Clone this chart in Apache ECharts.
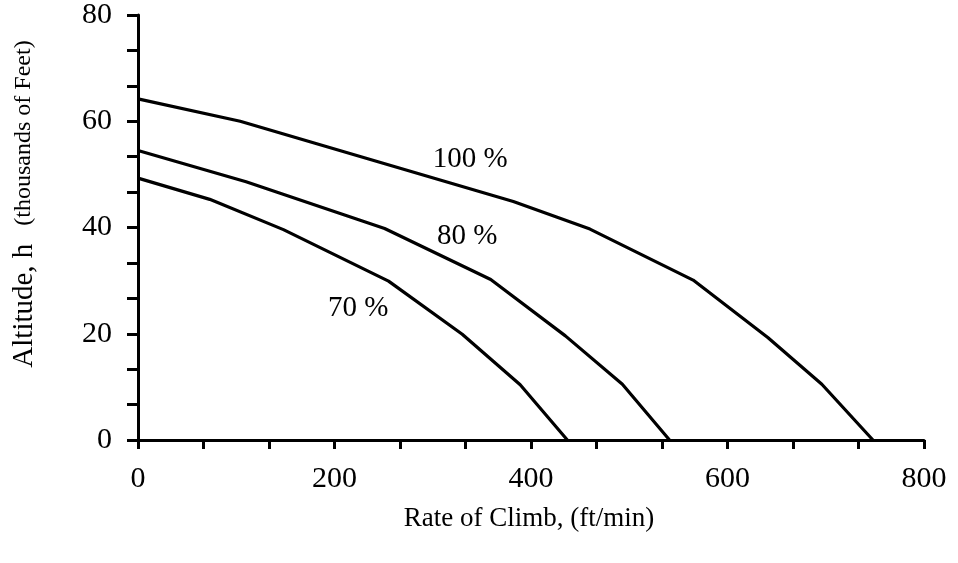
<!DOCTYPE html>
<html>
<head>
<meta charset="utf-8">
<script src="https://cdn.jsdelivr.net/npm/echarts@6/dist/echarts.min.js"></script>
<style>html,body{margin:0;padding:0;background:#fff;}#c{width:958px;height:563px;}</style>
</head>
<body>
<div id="c"></div>
<script>
// Rate of climb (ft/min) vs altitude (thousands of feet)
const curve100 = [[0, 64.2], [104, 60.0], [382, 44.9], [460, 39.7], [565, 30.1], [641, 19.3], [696, 10.5], [748, 0]];
const curve80  = [[0, 54.5], [110, 48.6], [251, 39.8], [359, 30.2], [435, 19.6], [493, 10.5], [541, 0]];
const curve70  = [[0, 49.3], [73, 45.3], [148, 39.6], [255, 29.9], [330, 19.9], [389, 10.4], [437, 0]];
const curveLabels = [
  { text: '100 %', x: 338, y: 52.8 },
  { text: '80 %', x: 335, y: 38.3 },
  { text: '70 %', x: 224, y: 24.8 }
];
const xTicks = [0, 200, 400, 600, 800];
const yTicks = [0, 20, 40, 60, 80];

const FONT = '"Liberation Serif", "DejaVu Serif", serif';
const chart = echarts.init(document.getElementById('c'));

const lineStyle = { color: '#000', width: 3.2 };
function mkSeries(data) {
  return { type: 'line', data: data, symbol: 'none', lineStyle: lineStyle, silent: true, animation: false };
}

chart.setOption({
  animation: false,
  backgroundColor: '#fff',
  grid: { left: 138, right: 34, top: 15, bottom: 123 },
  xAxis: {
    type: 'value', min: xTicks[0], max: xTicks[xTicks.length - 1], interval: 200,
    axisLine: { lineStyle: { color: '#000', width: 3 } },
    axisTick: { show: true, length: 9, lineStyle: { color: '#000', width: 3 } },
    minorTick: { show: true, splitNumber: 3, length: 9, lineStyle: { color: '#000', width: 3 } },
    splitLine: { show: false },
    axisLabel: { margin: 24, color: '#000', fontFamily: FONT, fontSize: 30 }
  },
  yAxis: {
    type: 'value', min: yTicks[0], max: yTicks[yTicks.length - 1], interval: 20,
    axisLine: { lineStyle: { color: '#000', width: 3 } },
    axisTick: { show: true, length: 11, lineStyle: { color: '#000', width: 3 } },
    minorTick: { show: true, splitNumber: 3, length: 11, lineStyle: { color: '#000', width: 3 } },
    splitLine: { show: false },
    axisLabel: { margin: 26, color: '#000', fontFamily: FONT, fontSize: 30 }
  },
  series: [
    mkSeries(curve100),
    mkSeries(curve80),
    mkSeries(curve70),
    {
      type: 'scatter', symbolSize: 0, silent: true,
      itemStyle: { color: '#000', opacity: 0 },
      data: curveLabels.map(l => ({ value: [l.x, l.y], label: { formatter: l.text } })),
      label: { show: true, position: 'inside', color: '#000', textBorderWidth: 0, opacity: 1, fontFamily: FONT, fontSize: 29 }
    }
  ],
  graphic: [
    {
      type: 'text', x: 529, y: 519,
      style: { text: 'Rate of Climb, (ft/min)', fill: '#000', font: '27px ' + FONT, align: 'center', verticalAlign: 'middle' }
    },
    {
      type: 'text', x: 24, y: 204, rotation: Math.PI / 2,
      style: {
        text: '{a|Altitude, h}{b|   (thousands of Feet)}',
        align: 'center', verticalAlign: 'middle',
        rich: {
          a: { fill: '#000', fontFamily: FONT, fontSize: 29 },
          b: { fill: '#000', fontFamily: FONT, fontSize: 24 }
        }
      }
    }
  ]
});
</script>
</body>
</html>
